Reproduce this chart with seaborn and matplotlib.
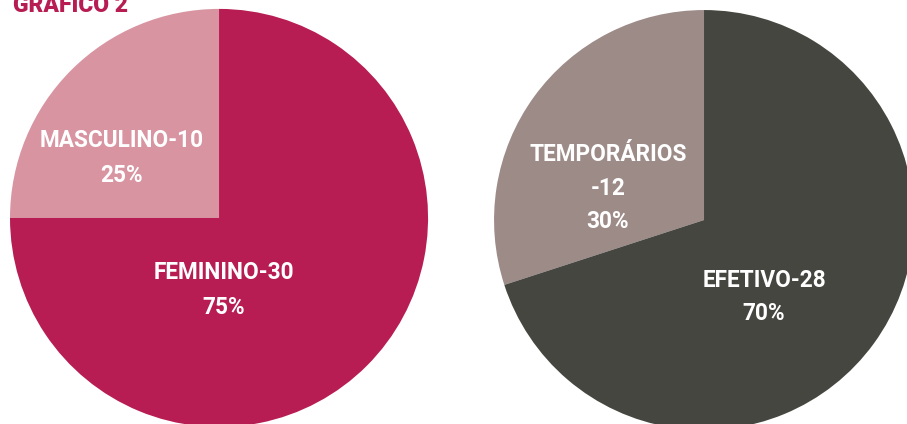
import matplotlib
matplotlib.use("Agg")
import matplotlib.pyplot as plt
import seaborn as sns

sns.set_style("white")
plt.rcParams['font.family'] = ['Roboto', 'DejaVu Sans']

# left chart: sex
sexo_labels = ['MASCULINO', 'FEMININO']
sexo_values = [10, 30]
sexo_colors = ['#D894A1', '#B71C52']

# right chart: bond type
vinculo_labels = ['TEMPORÁRIOS\n', 'EFETIVO']
vinculo_values = [12, 28]
vinculo_colors = ['#9D8B88', '#464641']

fig = plt.figure(figsize=(9.07, 4.24), dpi=100)


def draw_pie(ax, labels, values, colors, label_pos, spacing):
    ax.pie(values, colors=colors, startangle=90, counterclock=True,
           radius=1, wedgeprops=dict(linewidth=0))
    ax.set_xlim(-1, 1)
    ax.set_ylim(-1, 1)
    ax.set_aspect('equal')
    ax.axis('off')
    total = sum(values)
    for lab, v, (x, y) in zip(labels, values, label_pos):
        pct = round(100 * v / total)
        ax.text(x, y, f"{lab}-{v}\n{pct}%", ha='center', va='center',
                color='white', fontsize=16.3, fontweight='bold',
                linespacing=spacing)


ax1 = fig.add_axes([0.011, -0.007, 0.461, 0.986])
draw_pie(ax1, sexo_labels, sexo_values, sexo_colors,
         [(-0.464, 0.287), (0.024, -0.344)], 1.7)

ax2 = fig.add_axes([0.5447, -0.0142, 0.463, 0.9906])
draw_pie(ax2, vinculo_labels, vinculo_values, vinculo_colors,
         [(-0.457, 0.152), (0.286, -0.367)], 1.6)

fig.text(13 / 907, 1 - 12.5 / 424, "GRÁFICO 2", color='#B71C52',
         fontsize=16.5, fontweight='heavy', ha='left', va='baseline')

fig.savefig('out.png', dpi=100)
